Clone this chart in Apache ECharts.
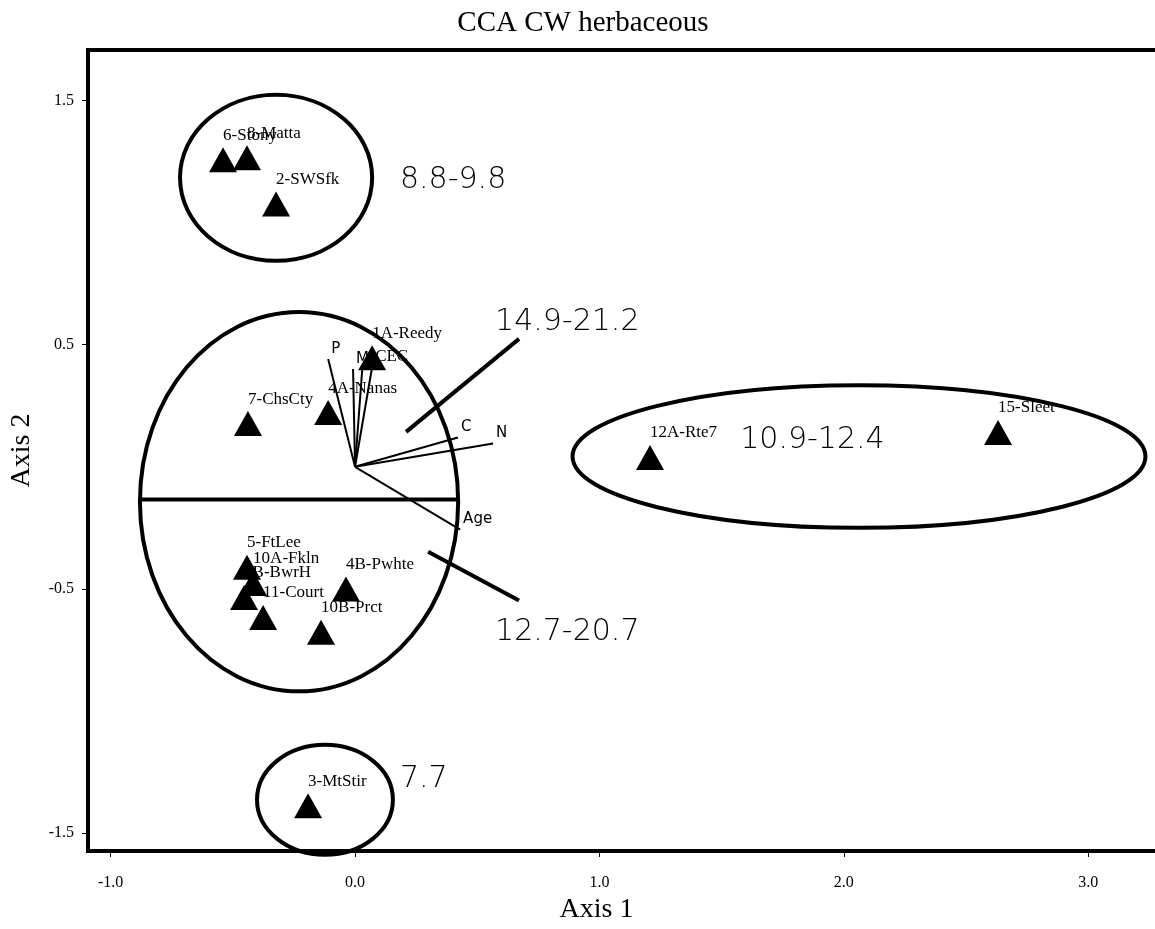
<!DOCTYPE html>
<html><head><meta charset="utf-8">
<script src="https://cdn.jsdelivr.net/npm/echarts@6/dist/echarts.min.js"></script>
<style>html,body{margin:0;padding:0;background:#fff}#c{width:1155px;height:929px}</style>
</head><body><div id="c"></div>
<script>
// ---- data ----
const siteNames = ['6-Stony','8-Matta','2-SWSfk','1A-Reedy','4A-Nanas','7-ChsCty','5-FtLee','10A-Fkln','2B-BwrH','11-Court','4B-Pwhte','10B-Prct','3-MtStir','12A-Rte7','15-Sleet'];
const siteX = [-0.540,-0.442,-0.323,0.070,-0.110,-0.438,-0.442,-0.417,-0.454,-0.376,-0.037,-0.139,-0.192,1.207,2.631];
const siteY = [1.258,1.266,1.077,0.447,0.222,0.177,-0.412,-0.478,-0.535,-0.617,-0.501,-0.678,-1.389,0.038,0.141];

const vectorNames = ['P','M','','CEC','C','N','Age'];
const vectorX = [-0.110,-0.008,0.030,0.070,0.421,0.565,0.430];
const vectorY = [0.442,0.401,0.405,0.409,0.120,0.095,-0.257];

const xTicks = [-1.0,0.0,1.0,2.0,3.0];
const yTicks = [1.5,0.5,-0.5,-1.5];

const groupLabels = ['8.8-9.8','14.9-21.2','12.7-20.7','10.9-12.4','7.7'];
const groupLabelX = [0.184,0.573,0.573,1.576,0.184];
const groupLabelY = [1.176,0.594,-0.678,0.110,-1.279];

const ellipseCX = [-0.323,-0.229,2.062,-0.123];
const ellipseCY = [1.184,-0.143,0.042,-1.364];
const ellipseRX = [0.393,0.651,1.172,0.278];
const ellipseRY = [0.340,0.777,0.292,0.225];

const segX1 = [-0.872,0.209,0.299];
const segY1 = [-0.134,0.143,-0.348];
const segX2 = [0.417,0.671,0.671];
const segY2 = [-0.134,0.524,-0.548];

const serif = '"Liberation Serif","Times New Roman",serif';
const sans = '"DejaVu Sans","Liberation Sans",sans-serif';

const chart = echarts.init(document.getElementById('c'));
const fmt = v => v.toFixed(1);

chart.setOption({
  animation: false,
  backgroundColor: '#fff',
  title: {
    text: 'CCA CW herbaceous', left: 578, top: 4, textAlign: 'center',
    textStyle: {fontFamily: serif, fontSize: 29, fontWeight: 'normal', color: '#000'}
  },
  grid: {left: 88, top: 50, right: -10, bottom: 78, outerBoundsMode: 'none', containLabel: false,
    show: true, borderColor: '#000', borderWidth: 4, backgroundColor: 'transparent'},
  xAxis: {
    type: 'value', min: -1.0925, max: 3.314,
    name: 'Axis 1', nameLocation: 'middle', nameGap: 42,
    nameTextStyle: {fontFamily: serif, fontSize: 28, color: '#000', padding: [0, 60, 0, 0]},
    axisLine: {show: false, onZero: false},
    axisTick: {show: true, customValues: xTicks, length: 6, lineStyle: {color: '#000', width: 1}},
    axisLabel: {customValues: xTicks, formatter: fmt, fontFamily: serif, fontSize: 16, color: '#000', margin: 24},
    splitLine: {show: false}
  },
  yAxis: {
    type: 'value', min: -1.574, max: 1.7075,
    name: 'Axis 2', nameLocation: 'middle', nameGap: 52, nameRotate: 90,
    nameTextStyle: {fontFamily: serif, fontSize: 28, color: '#000'},
    axisLine: {show: false, onZero: false},
    axisTick: {show: true, customValues: yTicks, length: 6, lineStyle: {color: '#000', width: 1}},
    axisLabel: {customValues: yTicks, formatter: fmt, fontFamily: serif, fontSize: 16, color: '#000', margin: 14},
    splitLine: {show: false}
  },
  series: [
    { // ellipses
      type: 'custom', silent: true, z: 2,
      data: ellipseCX.map((cx, i) => [cx, ellipseCY[i], ellipseRX[i], ellipseRY[i]]),
      renderItem: (params, api) => {
        const c = api.coord([api.value(0), api.value(1)]);
        const s = api.size([api.value(2), api.value(3)]);
        return {type: 'ellipse', shape: {cx: c[0], cy: c[1], rx: s[0], ry: s[1]},
          style: {fill: 'none', stroke: '#000', lineWidth: 4}};
      }
    },
    { // segments
      type: 'custom', silent: true, z: 3,
      data: segX1.map((x, i) => [x, segY1[i], segX2[i], segY2[i]]),
      renderItem: (params, api) => {
        const a = api.coord([api.value(0), api.value(1)]);
        const b = api.coord([api.value(2), api.value(3)]);
        return {type: 'line', shape: {x1: a[0], y1: a[1], x2: b[0], y2: b[1]},
          style: {stroke: '#000', lineWidth: 4}};
      }
    },
    { // sites
      type: 'scatter', z: 4, symbol: 'triangle', symbolSize: [28, 25],
      itemStyle: {color: '#000', opacity: 1},
      data: siteX.map((x, i) => ({value: [x, siteY[i]], name: siteNames[i]})),
      label: {show: true, formatter: p => p.name, position: [14, -12], align: 'left', verticalAlign: 'middle',
        fontFamily: serif, fontSize: 17, color: '#000', opacity: 1}
    },
    { // vectors
      type: 'custom', silent: true, z: 5,
      data: vectorX.map((x, i) => [x, vectorY[i]]),
      renderItem: (params, api) => {
        const o = api.coord([0, 0]);
        const e = api.coord([api.value(0), api.value(1)]);
        const name = vectorNames[params.dataIndex];
        const children = [{type: 'line', shape: {x1: o[0], y1: o[1], x2: e[0], y2: e[1]}, style: {stroke: '#000', lineWidth: 2}}];
        if (name) {
          children.push({type: 'text', x: e[0] + 3, y: e[1] - 10,
            style: {text: name, fill: '#000', font: (name === 'CEC' ? '17px ' + serif : '15px ' + sans), textAlign: 'left', textVerticalAlign: 'middle'}});
        }
        return {type: 'group', children};
      }
    },
    { // group annotations
      type: 'custom', silent: true, z: 6,
      data: groupLabelX.map((x, i) => [x, groupLabelY[i]]),
      renderItem: (params, api) => {
        const p = api.coord([api.value(0), api.value(1)]);
        return {type: 'text', x: p[0], y: p[1],
          style: {text: groupLabels[params.dataIndex], fill: '#000', font: '200 30px ' + sans, textAlign: 'left', textVerticalAlign: 'middle'}};
      }
    }
  ]
});
</script></body></html>
